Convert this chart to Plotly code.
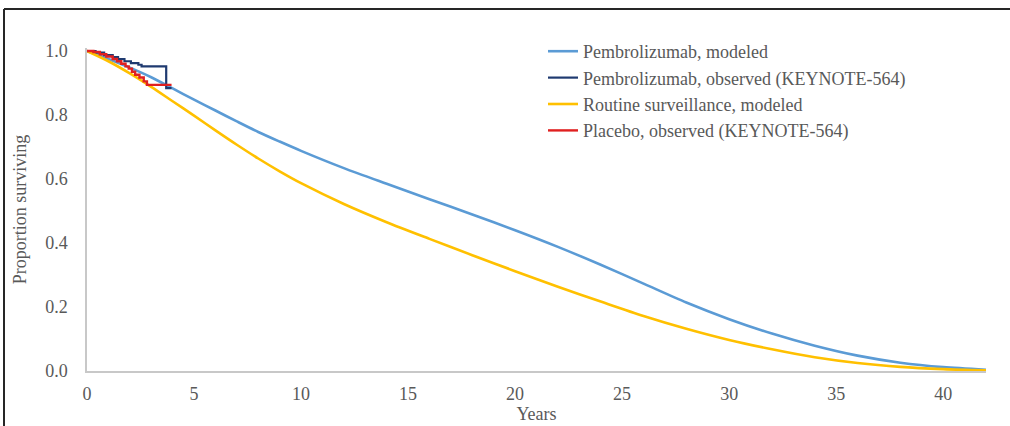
import plotly.graph_objects as go

# Modeled overall survival (years, proportion surviving)
model_years = [0, 1, 2, 3, 4, 5, 6, 7, 8, 9, 10, 12, 14, 16, 18, 20, 22, 24, 26,
               28, 30, 32, 34, 36, 38, 40, 42]
pembro_modeled = [1.0, 0.975, 0.948, 0.918, 0.883, 0.848, 0.814, 0.780, 0.747,
                  0.717, 0.688, 0.634, 0.585, 0.537, 0.489, 0.440, 0.388, 0.332,
                  0.273, 0.214, 0.162, 0.117, 0.079, 0.048, 0.026, 0.012, 0.004]
surveillance_modeled = [1.0, 0.968, 0.930, 0.888, 0.843, 0.798, 0.752, 0.707,
                        0.664, 0.624, 0.587, 0.522, 0.465, 0.413, 0.362, 0.312,
                        0.263, 0.217, 0.172, 0.132, 0.097, 0.068, 0.043, 0.025,
                        0.013, 0.006, 0.002]

# Kaplan-Meier estimates, KEYNOTE-564
pembro_km_years = [0, 0.4, 0.8, 1.2, 1.45, 1.75, 2.05, 2.4, 2.55, 3.7, 3.95]
pembro_km_surv = [1.0, 0.995, 0.987, 0.981, 0.975, 0.968, 0.962, 0.957, 0.952,
                  0.884, 0.884]
placebo_km_years = [0, 0.3, 0.6, 0.9, 1.2, 1.4, 1.6, 1.8, 1.95, 2.1, 2.25, 2.45,
                    2.65, 2.8, 3.95]
placebo_km_surv = [1.0, 0.997, 0.990, 0.983, 0.975, 0.968, 0.960, 0.952, 0.945,
                   0.935, 0.926, 0.917, 0.905, 0.894, 0.894]

x_ticks = [0, 5, 10, 15, 20, 25, 30, 35, 40]
y_ticks = [0.0, 0.2, 0.4, 0.6, 0.8, 1.0]

FONT = "Liberation Serif"
GREY = "#595959"

fig = go.Figure()
fig.add_trace(go.Scatter(x=model_years, y=pembro_modeled, mode="lines",
                         name="Pembrolizumab, modeled",
                         line=dict(color="#5B9BD5", width=2.6, shape="spline",
                                   smoothing=0.8)))
fig.add_trace(go.Scatter(x=pembro_km_years, y=pembro_km_surv, mode="lines",
                         name="Pembrolizumab, observed (KEYNOTE-564)",
                         line=dict(color="#1F3A70", width=2.2, shape="hv")))
fig.add_trace(go.Scatter(x=model_years, y=surveillance_modeled, mode="lines",
                         name="Routine surveillance, modeled",
                         line=dict(color="#FFC000", width=2.6, shape="spline",
                                   smoothing=0.8)))
fig.add_trace(go.Scatter(x=placebo_km_years, y=placebo_km_surv, mode="lines",
                         name="Placebo, observed (KEYNOTE-564)",
                         line=dict(color="#E02020", width=2.4, shape="hv")))

ML, MR, MT, MB = 87, 24, 48, 55
PW, PH = 1010 - ML - MR, 426 - MT - MB


def px_x(p):
    return (p - ML) / PW


def px_y(p):
    return (426 - MB - p) / PH


# outer frame around the figure
fig.add_shape(type="line", xref="paper", yref="paper",
              x0=px_x(4), x1=px_x(1020), y0=px_y(9), y1=px_y(9),
              line=dict(color="#262626", width=2))
fig.add_shape(type="line", xref="paper", yref="paper",
              x0=px_x(4), x1=px_x(4), y0=px_y(9), y1=px_y(440),
              line=dict(color="#262626", width=2))

fig.update_layout(
    width=1010, height=426,
    margin=dict(l=ML, r=MR, t=MT, b=MB, autoexpand=False),
    paper_bgcolor="white", plot_bgcolor="white",
    font=dict(family=FONT, size=18, color=GREY),
    showlegend=True,
    legend=dict(x=px_x(543), y=px_y(33), xanchor="left", yanchor="top",
                bgcolor="rgba(0,0,0,0)", font=dict(family=FONT, size=18, color=GREY),
                tracegroupgap=0, itemwidth=30),
    xaxis=dict(range=[0, 42], tickvals=x_ticks, showgrid=False, zeroline=False,
               showline=True, linecolor="#C8C8C8", linewidth=1.5,
               ticks="", ticklabelstandoff=6, automargin=False,
               tickfont=dict(family=FONT, size=18, color=GREY),
               title=dict(text="Years", standoff=4,
                          font=dict(family=FONT, size=18, color=GREY))),
    yaxis=dict(range=[0, PH / 320], tickvals=y_ticks, tickformat=".1f",
               showgrid=False, zeroline=False, automargin=False,
               showline=True, linecolor="#C8C8C8", linewidth=1.5,
               ticks="", ticklabelstandoff=14,
               tickfont=dict(family=FONT, size=18, color=GREY),
               title=dict(text="Proportion surviving", standoff=14,
                          font=dict(family=FONT, size=18, color=GREY))),
)

fig.write_html("out.html")
